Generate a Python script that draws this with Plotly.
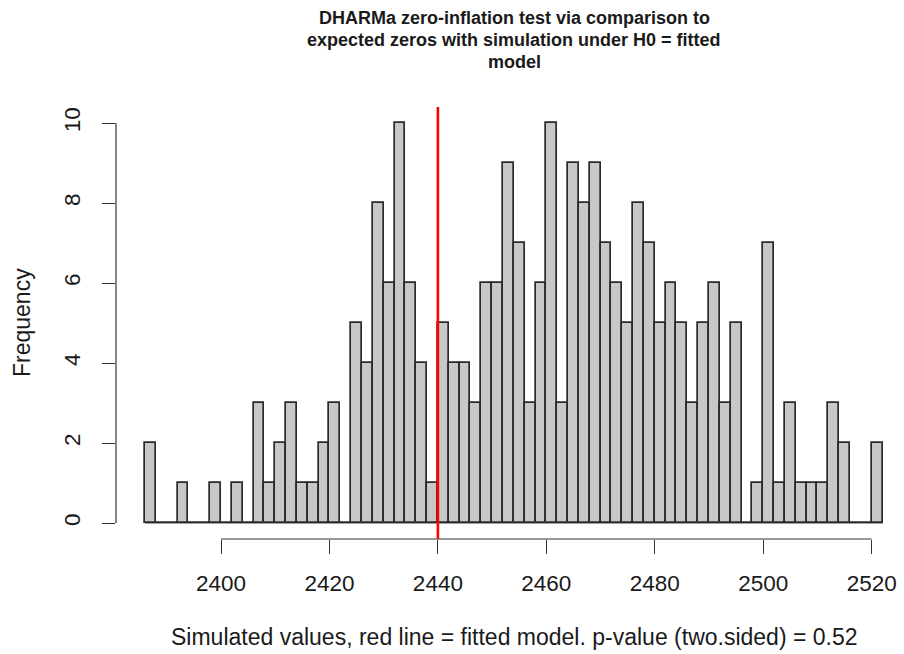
import plotly.graph_objects as go

# Histogram bins (left edges) and counts
bin_start = 2386
bin_width = 2
counts = [2, 0, 0, 1, 0, 0, 1, 0, 1, 0,
          3, 1, 2, 3, 1, 1, 2, 3, 0, 5,
          4, 8, 6, 10, 6, 4, 1, 5, 4, 4,
          3, 6, 6, 9, 7, 3, 6, 10, 3, 9,
          8, 9, 7, 6, 5, 8, 7, 5, 6, 5,
          3, 5, 6, 3, 5, 0, 1, 7, 1, 3,
          1, 1, 1, 3, 2, 0, 0, 2]
observed = 2440
x_ticks = [2400, 2420, 2440, 2460, 2480, 2500, 2520]
y_ticks = [0, 2, 4, 6, 8, 10]

title_lines = ["DHARMa zero-inflation test via comparison to",
               "expected zeros with simulation under H0 = fitted",
               "model"]
x_title = "Simulated values, red line = fitted model. p-value (two.sided) = 0.52"
y_title = "Frequency"

centers = [bin_start + bin_width * (i + 0.5) for i in range(len(counts))]
bin_end = bin_start + bin_width * len(counts)

FONT = "Liberation Sans, Arial, Helvetica, sans-serif"
INK = "#1a1a1a"
TICK_SIZE = 22.5

fig = go.Figure()
fig.add_trace(go.Bar(
    x=centers, y=counts, width=bin_width,
    marker=dict(color="#c8c8c8", line=dict(color="#2a2a2a", width=1.7)),
    hoverinfo="x+y", showlegend=False,
))

# R-style usr range (data range extended by 4%)
x_lo = 2400 - (221 - 116) / 5.4225
x_hi = 2400 + (904 - 221) / 5.4225
x_mid = (x_lo + 2527.44) / 2
y_lo, y_hi = -0.4, 10.4
PH = 432.0  # plot height in px

annotations = []
for i, line in enumerate(title_lines):
    annotations.append(dict(
        text="<b>" + line + "</b>", xref="x", yref="paper",
        x=x_mid, y=1 + (107 - (18 + 22 * i)) / PH, xanchor="center", yanchor="middle",
        showarrow=False, font=dict(size=18, family=FONT, color=INK)))
annotations.append(dict(
    text=x_title, xref="x", yref="paper", x=x_mid,
    y=(539 - 637) / PH, xanchor="center", yanchor="middle", showarrow=False,
    font=dict(size=23, family=FONT, color=INK)))
annotations.append(dict(
    text=y_title, xref="paper", yref="y", x=(22 - 116) / 788, y=5,
    xanchor="center", yanchor="middle", textangle=-90, showarrow=False,
    font=dict(size=23, family=FONT, color=INK)))

fig.update_layout(
    width=904, height=654,
    margin=dict(l=116, r=0, t=107, b=115, pad=0),
    paper_bgcolor="white", plot_bgcolor="white",
    font=dict(family=FONT, color=INK, size=TICK_SIZE),
    bargap=0,
    xaxis=dict(range=[x_lo, x_hi], tickvals=x_ticks, ticktext=[str(v) for v in x_ticks],
               ticks="outside", ticklen=14, tickwidth=1.2, tickcolor="#333",
               showgrid=False, zeroline=False, showline=False, automargin=False,
               tickfont=dict(size=TICK_SIZE, family=FONT, color=INK), ticklabelstandoff=10),
    yaxis=dict(range=[y_lo, y_hi], tickvals=y_ticks, ticktext=[str(v) for v in y_ticks],
               ticks="outside", ticklen=13, tickwidth=1.2, tickcolor="#333",
               tickangle=-90, showgrid=False, zeroline=False, showline=False,
               automargin=False, tickfont=dict(size=TICK_SIZE, family=FONT, color=INK),
               ticklabelstandoff=13),
    shapes=[
        dict(type="line", xref="x", yref="paper", x0=x_ticks[0], x1=x_ticks[-1],
             y0=0, y1=0, line=dict(color="#333", width=1.2)),
        dict(type="line", xref="paper", yref="y", x0=0, x1=0,
             y0=y_ticks[0], y1=y_ticks[-1], line=dict(color="#333", width=1.2)),
        dict(type="line", xref="x", yref="y", x0=bin_start, x1=bin_end,
             y0=0, y1=0, line=dict(color="#444", width=1.2), layer="below"),
        dict(type="line", xref="x", yref="paper", x0=observed, x1=observed,
             y0=0, y1=1, line=dict(color="#ff0000", width=2.6)),
    ],
    annotations=annotations,
)

fig.write_html("out.html")
